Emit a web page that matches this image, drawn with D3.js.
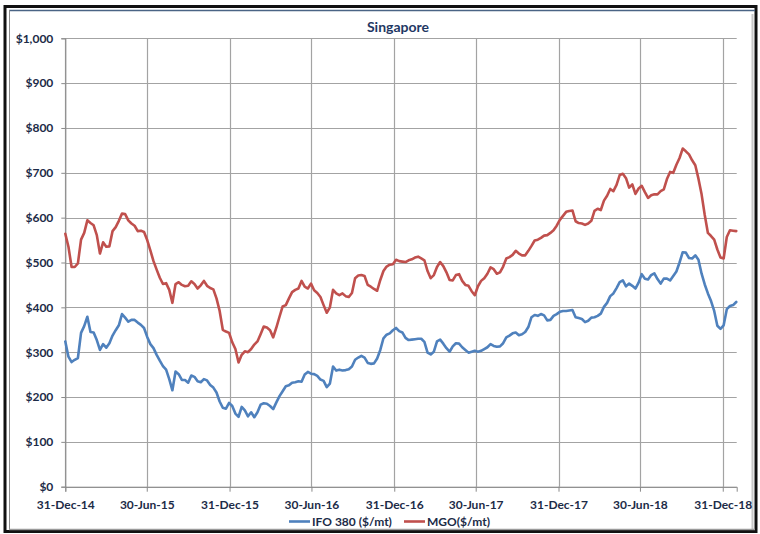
<!DOCTYPE html>
<html>
<head>
<meta charset="utf-8">
<script src="https://cdn.jsdelivr.net/npm/d3@7"></script>
<style>
  html, body { margin: 0; padding: 0; background: #ffffff; }
  svg { display: block; }
  text { font-family: Lato, "Open Sans", "Liberation Sans", sans-serif; }
</style>
</head>
<body>
<svg id="chart" width="760" height="534"></svg>
<script>
// ---------- data (weekly, starting 31-Dec-14) ----------
const startDate = new Date(2014, 11, 31);
const seriesNames = ["IFO 380 ($/mt)", "MGO($/mt)"];
const ifo380 = [
  324,290,278,283,287,343,358,379,345,344,327,305,318,310,320,337,349,360,385,377,368,372,372,366,361,354,334,318,309,294,281,269,261,240,215,257,251,238,238,232,248,245,235,
  233,240,237,227,221,210,190,176,174,187,180,163,156,178,170,157,166,155,166,183,186,185,180,173,188,202,213,224,226,232,233,235,234,250,256,252,251,247,239,236,222,230,268,
  259,261,259,260,262,268,283,288,292,288,276,274,275,286,305,331,339,342,349,354,347,344,332,327,328,329,330,330,323,299,295,301,324,328,319,309,301,313,320,319,311,305,
  299,301,303,301,303,307,311,318,314,312,313,320,333,337,342,344,338,340,345,356,378,383,381,385,382,371,372,381,385,390,392,392,393,394,378,376,374,367,370,377,378,381,386,
  401,410,425,431,443,456,460,447,453,448,442,455,474,464,462,472,476,463,453,464,464,460,470,480,500,523,522,510,509,516,506,475,451,431,414,392,359,352,360,396,403,405,412
];
const mgo = [
  564,535,490,490,498,551,566,594,588,583,561,520,545,535,536,570,579,593,609,608,594,587,582,570,571,568,550,527,503,484,466,452,454,439,410,452,456,450,447,448,458,452,442,
  449,459,448,443,440,420,392,350,346,343,322,307,277,294,302,300,307,317,324,340,357,355,349,333,355,379,402,405,420,434,439,442,459,446,442,453,438,432,423,405,388,400,439,
  431,427,431,425,423,432,465,471,472,470,450,446,441,437,461,481,491,495,496,506,503,502,501,505,507,511,513,509,505,481,465,472,490,501,492,478,461,460,472,474,459,450,
  448,436,427,447,459,465,475,489,485,475,478,491,509,512,517,526,520,516,516,526,537,549,551,555,560,561,566,572,582,595,604,613,615,616,592,588,587,584,587,593,615,620,617,
  638,649,664,659,673,695,698,688,667,674,653,665,671,657,644,650,652,652,659,663,686,702,700,718,733,754,748,741,728,717,687,652,606,566,559,551,529,511,509,557,572,571,570
];
const xTickDates = ["2014-12-31","2015-06-30","2015-12-31","2016-06-30","2016-12-31","2017-06-30","2017-12-31","2018-06-30","2018-12-31"];
const yTickValues = [0,100,200,300,400,500,600,700,800,900,1000];
const titleText = "Singapore";

// ---------- layout ----------
const svg = d3.select("#chart");
const W = 760, H = 534;
const plot = { left: 65.3, right: 736.7, top: 38.3, bottom: 486.7 };
const colors = { ifo: "#4F81BD", mgo: "#C0504D", grid: "#a3a3a3", text: "#1c2b47", title: "#1F3864" };

const parseDate = d3.timeParse("%Y-%m-%d");
const dates = mgo.map((_, i) => d3.timeDay.offset(startDate, 7 * i));

const x = d3.scaleTime()
  .domain([startDate, new Date(2019, 0, 31)])
  .range([plot.left, plot.right]);
const y = d3.scaleLinear().domain([0, 1000]).range([plot.bottom, plot.top]);

// ---------- frame ----------
svg.append("rect").attr("x", 0).attr("y", 0).attr("width", W).attr("height", H).attr("fill", "#ffffff");
svg.append("rect").attr("x", 5).attr("y", 6.5).attr("width", 751).attr("height", 525)
  .attr("fill", "none").attr("stroke", "#111").attr("stroke-width", 3);
svg.append("line").attr("x1", 9).attr("x2", 755).attr("y1", 10.5).attr("y2", 10.5)
  .attr("stroke", "#4a6485").attr("stroke-width", 1.5);
svg.append("line").attr("x1", 9.5).attr("x2", 9.5).attr("y1", 10).attr("y2", 530)
  .attr("stroke", "#8a8a8a").attr("stroke-width", 1);
svg.append("line").attr("x1", 752.5).attr("x2", 752.5).attr("y1", 14).attr("y2", 530)
  .attr("stroke", "#c8c8c8").attr("stroke-width", 2);
svg.append("line").attr("x1", 9).attr("x2", 755).attr("y1", 529.5).attr("y2", 529.5)
  .attr("stroke", "#9a9a9a").attr("stroke-width", 1.5);

// ---------- grid ----------
const grid = svg.append("g");
grid.selectAll("line.h").data(yTickValues).join("line")
  .attr("x1", plot.left).attr("x2", plot.right)
  .attr("y1", d => Math.round(y(d)) + 0.5).attr("y2", d => Math.round(y(d)) + 0.5)
  .attr("stroke", colors.grid).attr("stroke-width", 1.2);
grid.selectAll("line.v").data(xTickDates.map(parseDate)).join("line")
  .attr("x1", d => Math.round(x(d)) + 0.5).attr("x2", d => Math.round(x(d)) + 0.5)
  .attr("y1", plot.top).attr("y2", plot.bottom)
  .attr("stroke", colors.grid).attr("stroke-width", 1.2);

// ---------- axes ----------
const yAxis = d3.axisLeft(y).tickValues(yTickValues).tickSize(4).tickPadding(8)
  .tickFormat(d => "$" + d3.format(",")(d));
const gy = svg.append("g").attr("transform", `translate(${plot.left},0)`).call(yAxis);
gy.select(".domain").attr("stroke", "#8a8a8a");
gy.selectAll(".tick line").attr("stroke", "#8a8a8a");
gy.selectAll("text").attr("fill", colors.text).attr("font-size", 12).attr("font-weight", "bold");

const xAxis = d3.axisBottom(x).tickValues(xTickDates.map(parseDate)).tickSize(5).tickPadding(9)
  .tickFormat(d3.timeFormat("%d-%b-%y"));
const gx = svg.append("g").attr("transform", `translate(0,${plot.bottom})`).call(xAxis);
gx.select(".domain").attr("stroke", "#8a8a8a");
gx.selectAll(".tick line").attr("stroke", "#8a8a8a");
gx.selectAll("text").attr("fill", colors.text).attr("font-size", 12).attr("font-weight", "bold");

// ---------- lines ----------
const line = d3.line().x((d, i) => x(dates[i])).y(d => y(d));
svg.append("path").datum(ifo380).attr("d", line)
  .attr("fill", "none").attr("stroke", colors.ifo).attr("stroke-width", 2.6)
  .attr("stroke-linejoin", "round").attr("stroke-linecap", "round");
svg.append("path").datum(mgo).attr("d", line)
  .attr("fill", "none").attr("stroke", colors.mgo).attr("stroke-width", 2.6)
  .attr("stroke-linejoin", "round").attr("stroke-linecap", "round");

// ---------- title ----------
svg.append("text").attr("x", 398).attr("y", 32).attr("text-anchor", "middle")
  .attr("font-size", 14).attr("font-weight", "bold").attr("fill", colors.title).text(titleText);

// ---------- legend ----------
const legend = svg.append("g");
const legendItems = [
  { name: seriesNames[0], color: colors.ifo, x: 289 },
  { name: seriesNames[1], color: colors.mgo, x: 404 }
];
legendItems.forEach(it => {
  legend.append("line").attr("x1", it.x).attr("x2", it.x + 21).attr("y1", 521.5).attr("y2", 521.5)
    .attr("stroke", it.color).attr("stroke-width", 2.6);
  legend.append("text").attr("x", it.x + 23).attr("y", 526).attr("font-size", 12)
    .attr("font-weight", "bold").attr("fill", colors.text).text(it.name);
});
</script>
</body>
</html>
